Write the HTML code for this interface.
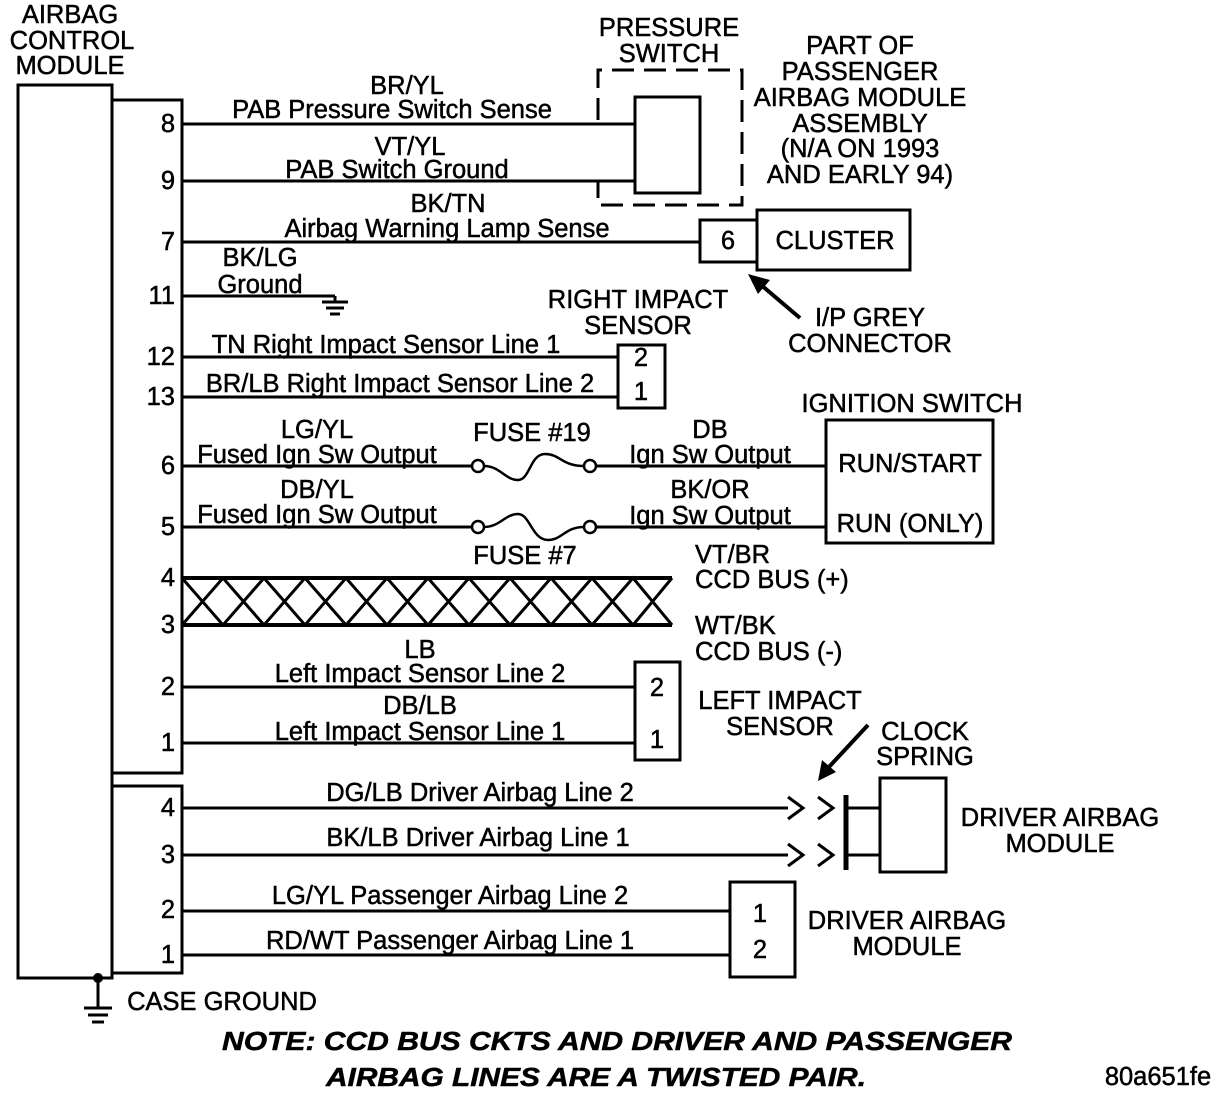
<!DOCTYPE html>
<html><head><meta charset="utf-8"><style>
html,body{margin:0;padding:0;background:#fff;}
svg{display:block;}
text{font-family:"Liberation Sans",Arial,sans-serif;font-size:25.5px;fill:#000;stroke:#000;stroke-width:0.5;}
</style></head><body>
<svg width="1232" height="1094" viewBox="0 0 1232 1094" xmlns="http://www.w3.org/2000/svg">
<g text-anchor="middle">
<text x="70" y="23">AIRBAG</text><text x="72" y="49">CONTROL</text><text x="70" y="74">MODULE</text>
</g>
<g fill="none" stroke="#000" stroke-width="3">
<rect x="18" y="85" width="94" height="893"/>
<rect x="112" y="100" width="70" height="673"/>
<rect x="112" y="786" width="70" height="187"/>
</g>
<g text-anchor="end">
<text x="175" y="132">8</text><text x="175" y="189">9</text><text x="175" y="250">7</text>
<text x="175" y="304">11</text><text x="175" y="365">12</text><text x="175" y="405">13</text>
<text x="175" y="474">6</text><text x="175" y="535">5</text><text x="175" y="586">4</text>
<text x="175" y="633">3</text><text x="175" y="695">2</text><text x="175" y="751">1</text>
<text x="175" y="816">4</text><text x="175" y="863">3</text><text x="175" y="918">2</text><text x="175" y="963">1</text>
</g>
<g stroke="#000" stroke-width="3" fill="none">
<line x1="182" y1="124" x2="635" y2="124"/>
<line x1="182" y1="181" x2="635" y2="181"/>
<rect x="635" y="97" width="65" height="96"/>
<line x1="182" y1="242" x2="700" y2="242"/>
<rect x="700" y="220" width="57" height="42"/>
<rect x="757" y="210" width="153" height="60"/>
<line x1="182" y1="296" x2="335" y2="296"/>
<line x1="335" y1="296" x2="335" y2="302"/>
<line x1="322" y1="302" x2="348" y2="302"/>
<line x1="326" y1="308" x2="344" y2="308"/>
<line x1="330" y1="314" x2="340" y2="314"/>
<line x1="182" y1="357" x2="618" y2="357"/>
<line x1="182" y1="397" x2="618" y2="397"/>
<rect x="618" y="345" width="47" height="63"/>
<line x1="182" y1="466" x2="473" y2="466"/>
<line x1="595" y1="466" x2="826" y2="466"/>
<line x1="182" y1="527" x2="473" y2="527"/>
<line x1="595" y1="527" x2="826" y2="527"/>
<path d="M484 466 C500 466,505 480,518 480 C530 480,530 454,545 454 C560 454,562 466,584 466" stroke-width="2.5"/>
<path d="M484 527 C500 527,505 514,518 514 C530 514,532 540,548 540 C562 540,565 527,584 527" stroke-width="2.5"/>
<rect x="826" y="420" width="167" height="123"/>
<line x1="182" y1="578" x2="672" y2="578" stroke-width="4"/>
<line x1="182" y1="625" x2="672" y2="625" stroke-width="4"/>
<line x1="182" y1="687" x2="635" y2="687"/>
<line x1="182" y1="743" x2="635" y2="743"/>
<rect x="635" y="662" width="45" height="98"/>
<line x1="182" y1="808" x2="788" y2="808"/>
<line x1="182" y1="855" x2="788" y2="855"/>
<polyline points="788,797 803,808 788,819"/><polyline points="818,797 833,808 818,819"/>
<polyline points="788,844 803,855 788,866"/><polyline points="818,844 833,855 818,866"/>
<line x1="846" y1="795" x2="846" y2="870" stroke-width="5"/>
<line x1="846" y1="808" x2="880" y2="808"/><line x1="846" y1="855" x2="880" y2="855"/>
<rect x="880" y="778" width="66" height="94"/>
<line x1="182" y1="911" x2="730" y2="911"/>
<line x1="182" y1="955" x2="730" y2="955"/>
<rect x="730" y="882" width="65" height="95"/>
<line x1="98" y1="978" x2="98" y2="1008"/>
<line x1="84" y1="1008" x2="112" y2="1008"/>
<line x1="88" y1="1015" x2="108" y2="1015"/>
<line x1="92" y1="1022" x2="104" y2="1022"/>
</g>
<circle cx="98" cy="978" r="5" fill="#000"/>
<g fill="#fff" stroke="#000" stroke-width="2.5">
<circle cx="478" cy="466" r="6"/><circle cx="590" cy="466" r="6"/>
<circle cx="478" cy="527" r="6"/><circle cx="590" cy="527" r="6"/>
</g>
<g stroke="#000" stroke-width="3" stroke-dasharray="22,10" fill="none">
<polyline points="598,120 598,70 742,70 742,205 598,205 598,180"/>
</g>
<g stroke="#000" stroke-width="3" fill="none">
<path d="M182 578 L223 625 L264 578 L305 625 L346 578 L387 625 L428 578 L469 625 L510 578 L551 625 L592 578 L633 625 L672 578"/>
<path d="M182 625 L223 578 L264 625 L305 578 L346 625 L387 578 L428 625 L469 578 L510 625 L551 578 L592 625 L633 578 L672 625"/>
</g>
<g stroke="#000" stroke-width="4">
<line x1="800" y1="318" x2="760" y2="284"/>
<line x1="868" y1="725" x2="828" y2="768"/>
</g>
<polygon points="748,274 770,280 758,294" fill="#000"/>
<polygon points="818,781 822,760 836,772" fill="#000"/>
<g text-anchor="middle">
<text x="669" y="36">PRESSURE</text><text x="669" y="62">SWITCH</text>
<text x="860" y="54">PART OF</text><text x="860" y="80">PASSENGER</text><text x="860" y="106">AIRBAG MODULE</text>
<text x="860" y="132">ASSEMBLY</text><text x="860" y="157">(N/A ON 1993</text><text x="860" y="183">AND EARLY 94)</text>
<text x="407" y="94">BR/YL</text><text x="392" y="118">PAB Pressure Switch Sense</text>
<text x="410" y="155">VT/YL</text><text x="397" y="178">PAB Switch Ground</text>
<text x="448" y="212">BK/TN</text><text x="447" y="237">Airbag Warning Lamp Sense</text>
<text x="728" y="249">6</text><text x="835" y="249">CLUSTER</text>
<text x="870" y="326">I/P GREY</text><text x="870" y="352">CONNECTOR</text>
<text x="260" y="266">BK/LG</text><text x="260" y="293">Ground</text>
<text x="638" y="308">RIGHT IMPACT</text><text x="638" y="334">SENSOR</text>
<text x="386" y="353">TN Right Impact Sensor Line 1</text>
<text x="400" y="392">BR/LB Right Impact Sensor Line 2</text>
<text x="641" y="366">2</text><text x="641" y="400">1</text>
<text x="912" y="412">IGNITION SWITCH</text>
<text x="910" y="472">RUN/START</text><text x="910" y="532">RUN (ONLY)</text>
<text x="317" y="438">LG/YL</text><text x="317" y="463">Fused Ign Sw Output</text>
<text x="532" y="441">FUSE #19</text>
<text x="710" y="438">DB</text><text x="710" y="463">Ign Sw Output</text>
<text x="317" y="498">DB/YL</text><text x="317" y="523">Fused Ign Sw Output</text>
<text x="525" y="564">FUSE #7</text>
<text x="710" y="498">BK/OR</text><text x="710" y="524">Ign Sw Output</text>
<text x="420" y="658">LB</text><text x="420" y="682">Left Impact Sensor Line 2</text>
<text x="420" y="714">DB/LB</text><text x="420" y="740">Left Impact Sensor Line 1</text>
<text x="657" y="696">2</text><text x="657" y="748">1</text>
<text x="780" y="709">LEFT IMPACT</text><text x="780" y="735">SENSOR</text>
<text x="925" y="740">CLOCK</text><text x="925" y="765">SPRING</text>
<text x="480" y="801">DG/LB Driver Airbag Line 2</text>
<text x="478" y="846">BK/LB Driver Airbag Line 1</text>
<text x="1060" y="826">DRIVER AIRBAG</text><text x="1060" y="852">MODULE</text>
<text x="450" y="904">LG/YL Passenger Airbag Line 2</text>
<text x="450" y="949">RD/WT Passenger Airbag Line 1</text>
<text x="760" y="922">1</text><text x="760" y="958">2</text>
<text x="907" y="929">DRIVER AIRBAG</text><text x="907" y="955">MODULE</text>
<text x="222" y="1010">CASE GROUND</text>
<text x="1158" y="1085">80a651fe</text>
</g>
<text x="222" y="1050" font-weight="bold" font-style="italic" font-size="27" textLength="790" lengthAdjust="spacingAndGlyphs">NOTE:  CCD BUS CKTS AND DRIVER AND PASSENGER</text>
<text x="326" y="1086" font-weight="bold" font-style="italic" font-size="27" textLength="540" lengthAdjust="spacingAndGlyphs">AIRBAG LINES ARE A TWISTED PAIR.</text>
<g>
<text x="695" y="563">VT/BR</text><text x="695" y="588">CCD BUS (+)</text>
<text x="695" y="634">WT/BK</text><text x="695" y="660">CCD BUS (-)</text>
</g>
</svg>
</body></html>
